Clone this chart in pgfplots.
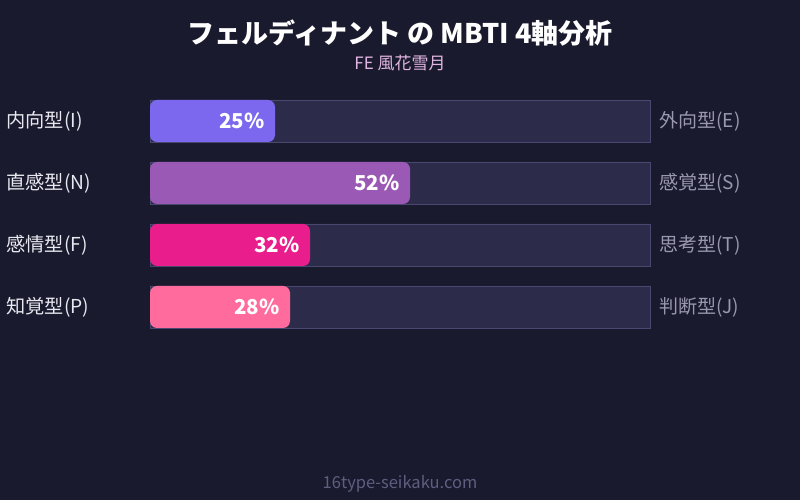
\documentclass[border=0pt]{standalone}
\usepackage{pgfplots}
\pgfplotsset{compat=1.18}
\usepackage{fontspec}
\setmainfont{Noto Sans CJK JP}
\definecolor{bgcol}{HTML}{1A1A2E}
\definecolor{track}{HTML}{2D2B4A}
\definecolor{trackborder}{HTML}{4A4870}
\definecolor{cI}{HTML}{7B68EE}
\definecolor{cN}{HTML}{9B59B6}
\definecolor{cF}{HTML}{E91E8C}
\definecolor{cP}{HTML}{FF6B9D}
\definecolor{leftlab}{HTML}{E8E8F0}
\definecolor{rightlab}{HTML}{9A98B0}
\definecolor{subcol}{HTML}{E2B6E2}
\definecolor{footcol}{HTML}{5E5E80}
\begin{document}
\begin{tikzpicture}
\begin{axis}[
  scale only axis, width=800bp, height=500bp,
  xmin=-30, xmax=130, ymin=0, ymax=500, y dir=reverse,
  axis lines=none, ticks=none, clip=false,
  axis background/.style={fill=bgcol},
  /pgf/number format/assume math mode=true,
  xbar, bar width=42, bar shift=0pt,
  nodes near coords={\pgfmathprintnumber{\pgfplotspointmeta}\%},
  point meta=x,
  nodes near coords style={anchor=east, xshift=-7bp, text=white, font=\fontsize{20.5bp}{24bp}\selectfont\bfseries},
]
\addplot[fill=track, draw=trackborder, line width=0.8bp, nodes near coords={}] coordinates {(100,121) (100,183) (100,245) (100,307)};
\addplot[fill=cI, draw=none, rounded corners=7bp] coordinates {(25,121)};
\addplot[fill=cN, draw=none, rounded corners=7bp] coordinates {(52,183)};
\addplot[fill=cF, draw=none, rounded corners=7bp] coordinates {(32,245)};
\addplot[fill=cP, draw=none, rounded corners=7bp] coordinates {(28,307)};
% titles
\node[text=white, font=\fontsize{27bp}{32bp}\selectfont\bfseries] at (axis cs:50,33) {フェルディナント の MBTI 4軸分析};
\node[text=subcol, font=\fontsize{17bp}{20bp}\selectfont] at (axis cs:50,63) {FE 風花雪月};
% left labels
\begin{scope}[every node/.style={anchor=west, text=leftlab, font=\fontsize{19.2bp}{22bp}\selectfont}]
\node at (axis cs:-29.4,121) {内向型(I)};
\node at (axis cs:-29.4,183) {直感型(N)};
\node at (axis cs:-29.4,245) {感情型(F)};
\node at (axis cs:-29.4,307) {知覚型(P)};
\end{scope}
\begin{scope}[every node/.style={anchor=west, text=rightlab, font=\fontsize{19bp}{22bp}\selectfont}]
\node at (axis cs:101.2,121) {外向型(E)};
\node at (axis cs:101.2,183) {感覚型(S)};
\node at (axis cs:101.2,245) {思考型(T)};
\node at (axis cs:101.2,307) {判断型(J)};
\end{scope}
\node[text=footcol, font=\fontsize{16.5bp}{19bp}\selectfont] at (axis cs:50,484) {16type-seikaku.com};
\end{axis}
\end{tikzpicture}
\end{document}
